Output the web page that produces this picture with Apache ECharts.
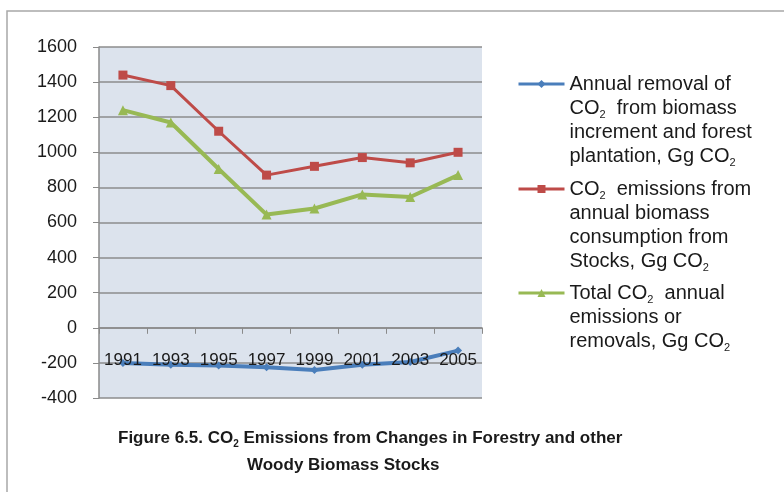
<!DOCTYPE html>
<html>
<head>
<meta charset="utf-8">
<script src="https://cdn.jsdelivr.net/npm/echarts@6/dist/echarts.min.js"></script>
<style>html,body{margin:0;padding:0;background:#fff}#c{width:784px;height:492px}</style>
</head>
<body>
<div id="c"></div>
<script>
const years = ['1991','1993','1995','1997','1999','2001','2003','2005'];
const removal = [-200,-210,-215,-225,-240,-210,-195,-130];
const emissions = [1440,1380,1120,870,920,970,940,1000];
const total = [1240,1170,905,645,680,760,745,870];
const seriesNames = [
  'Annual removal of CO2 from biomass increment and forest plantation, Gg CO2',
  'CO2 emissions from annual biomass consumption from Stocks, Gg CO2',
  'Total CO2 annual emissions or removals, Gg CO2'
];
const legendLabels = [
  'Annual removal of\nCO{s|2}  from biomass\nincrement and forest\nplantation, Gg CO{s|2}',
  'CO{s|2}  emissions from\nannual biomass\nconsumption from\nStocks, Gg CO{s|2}',
  'Total CO{s|2}  annual\nemissions or\nremovals, Gg CO{s|2}'
];
const yTicks = {min:-400, max:1600, interval:200};
const titleLine1 = 'Figure 6.5. CO{s|2} Emissions from Changes in Forestry and other';
const titleLine2 = 'Woody Biomass Stocks';

const FONT = 'Liberation Sans';
const richSub = {s:{fontSize:11, fontFamily:FONT, color:'#1a1a1a', verticalAlign:'bottom', lineHeight:24}};

function mkLegend(i, top, padTop){
  return {
    data:[seriesNames[i]], left:517, top:top, padding:0, orient:'vertical',
    itemWidth:46, itemHeight:10, itemGap:0,
    lineStyle:{width:3},
    formatter: () => legendLabels[i],
    textStyle:{fontFamily:FONT, fontSize:20, color:'#1a1a1a', lineHeight:24, padding:[padTop,0,0,0], rich:richSub}
  };
}

const chart = echarts.init(document.getElementById('c'));
chart.setOption({
  animation:false,
  backgroundColor:'#ffffff',
  textStyle:{fontFamily:FONT},
  graphic:[{type:'rect', z:-10, silent:true, shape:{x:7, y:11, width:800, height:500},
    style:{fill:'none', stroke:'#a8a8a8', lineWidth:1.5}}],
  title:[
    {text:titleLine1, left:118, top:427, padding:0,
     textStyle:{fontFamily:FONT, fontSize:17, fontWeight:'bold', color:'#1a1a1a', lineHeight:22,
       rich:{s:{fontSize:10, fontWeight:'bold', fontFamily:FONT, color:'#1a1a1a', verticalAlign:'bottom', lineHeight:22}}}},
    {text:titleLine2, left:247, top:454, padding:0,
     textStyle:{fontFamily:FONT, fontSize:17, fontWeight:'bold', color:'#1a1a1a', lineHeight:22}}
  ],
  legend:[mkLegend(0,0,72), mkLegend(1,105,72), mkLegend(2,233,48)],
  grid:{left:99, right:302, top:47, bottom:94, show:true, backgroundColor:'#dce3ed', borderWidth:0},
  xAxis:{type:'category', data:years, boundaryGap:true, z:5,
    axisLine:{onZero:true, lineStyle:{color:'#8a8a8a', width:1.5}},
    axisTick:{show:true, inside:false, length:6, alignWithLabel:false, lineStyle:{color:'#8a8a8a'}},
    axisLabel:{margin:-46, fontSize:17, fontFamily:FONT, color:'#1a1a1a', interval:0}},
  yAxis:{type:'value', min:yTicks.min, max:yTicks.max, interval:yTicks.interval,
    axisLine:{show:true, lineStyle:{color:'#8a8a8a', width:1.5}},
    axisTick:{show:true, length:6, lineStyle:{color:'#8a8a8a'}},
    axisLabel:{margin:22, fontSize:18, fontFamily:FONT, color:'#1a1a1a', formatter:(v)=>String(v)},
    splitLine:{lineStyle:{color:'#8c8c8c', width:1.5}}},
  series:[
    {name:seriesNames[0], type:'line', data:removal, symbol:'diamond', symbolSize:8,
     itemStyle:{color:'#4a7ebb'}, lineStyle:{color:'#4a7ebb', width:4}},
    {name:seriesNames[1], type:'line', data:emissions, symbol:'rect', symbolSize:9,
     itemStyle:{color:'#be4b48'}, lineStyle:{color:'#be4b48', width:3}},
    {name:seriesNames[2], type:'line', data:total, symbol:'triangle', symbolSize:10,
     itemStyle:{color:'#98b954'}, lineStyle:{color:'#98b954', width:4}}
  ]
});
</script>
</body>
</html>
